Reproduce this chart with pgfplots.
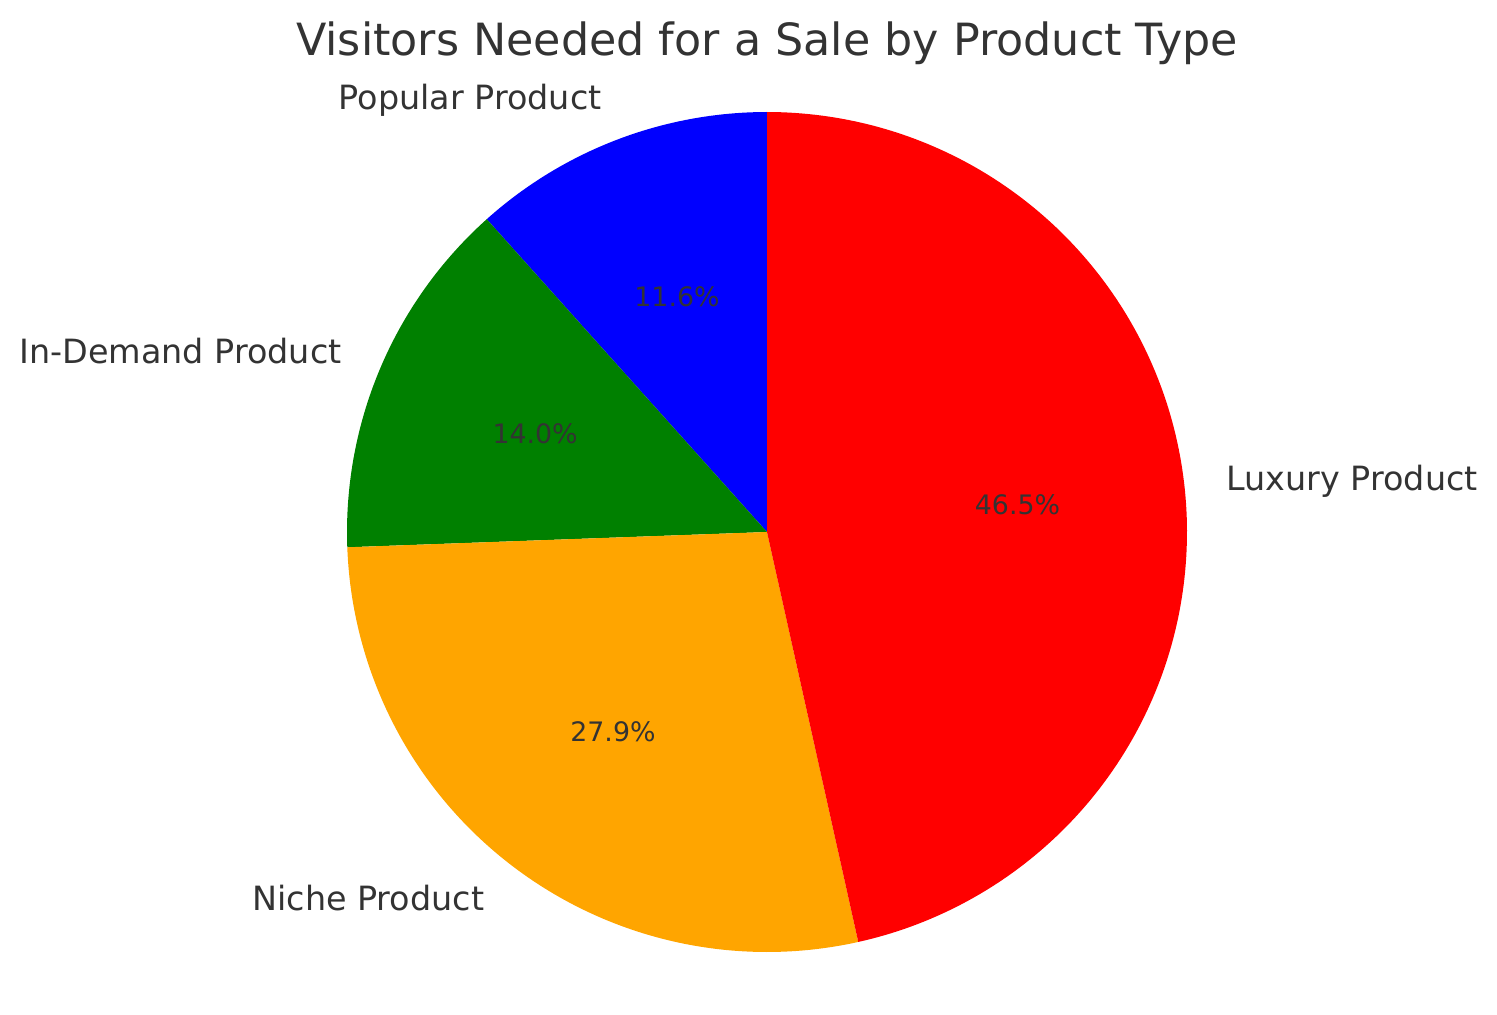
\documentclass[border=0pt]{standalone}
\usepackage{pgfplots}
\pgfplotsset{compat=1.18}
\usepackage{pgfplotstable}
\usepackage{fontspec}
\setmainfont{DejaVu Sans}
\definecolor{txt}{HTML}{333333}
\definecolor{pgreen}{RGB}{0,128,0}
\definecolor{porange}{RGB}{255,165,0}
\definecolor{pred}{RGB}{255,0,0}
\definecolor{pblue}{RGB}{0,0,255}

\pgfplotstableread{
name value
Popular 50
InDemand 60
Niche 120
Luxury 200
}\datatable

\pgfplotstablegetelem{0}{value}\of\datatable \let\va\pgfplotsretval
\pgfplotstablegetelem{1}{value}\of\datatable \let\vb\pgfplotsretval
\pgfplotstablegetelem{2}{value}\of\datatable \let\vc\pgfplotsretval
\pgfplotstablegetelem{3}{value}\of\datatable \let\vd\pgfplotsretval
\pgfmathsetmacro\total{\va+\vb+\vc+\vd}
\pgfmathsetmacro\fA{\va/\total}
\pgfmathsetmacro\fB{\vb/\total}
\pgfmathsetmacro\fC{\vc/\total}
\pgfmathsetmacro\fD{\vd/\total}
\pgfmathsetmacro\aA{90}
\pgfmathsetmacro\aB{\aA+360*\fA}
\pgfmathsetmacro\aC{\aB+360*\fB}
\pgfmathsetmacro\aD{\aC+360*\fC}
\pgfmathsetmacro\aE{\aD+360*\fD}
\pgfmathsetmacro\mA{(\aA+\aB)/2}
\pgfmathsetmacro\mB{(\aB+\aC)/2}
\pgfmathsetmacro\mC{(\aC+\aD)/2}
\pgfmathsetmacro\mD{(\aD+\aE)/2}
\pgfmathsetmacro\pA{100*\fA}
\pgfmathsetmacro\pB{100*\fB}
\pgfmathsetmacro\pC{100*\fC}
\pgfmathsetmacro\pD{100*\fD}

\newcommand\pct[1]{\pgfmathprintnumber[fixed,fixed zerofill,precision=1,assume math mode=true]{#1}\%}
\newcommand\lfont{\fontsize{16.7pt}{20pt}\selectfont}
\newcommand\pfont{\fontsize{13.4pt}{16pt}\selectfont}

\begin{document}
\begin{tikzpicture}
\useasboundingbox (0,0) rectangle (748.5pt,507pt);
\begin{axis}[
  x=210pt, y=210pt,
  anchor=origin, at={(383.5pt,241pt)},
  xmin=-1, xmax=1, ymin=-1, ymax=1,
  hide axis, clip=false,
]
\addplot[draw=none, fill=pblue, domain=\aA:\aB, samples=80, variable=\t] ({cos(\t)},{sin(\t)}) -- (axis cs:0,0) -- cycle;
\addplot[draw=none, fill=pgreen, domain=\aB:\aC, samples=80, variable=\t] ({cos(\t)},{sin(\t)}) -- (axis cs:0,0) -- cycle;
\addplot[draw=none, fill=porange, domain=\aC:\aD, samples=120, variable=\t] ({cos(\t)},{sin(\t)}) -- (axis cs:0,0) -- cycle;
\addplot[draw=none, fill=pred, domain=\aD:\aE, samples=180, variable=\t] ({cos(\t)},{sin(\t)}) -- (axis cs:0,0) -- cycle;

\node[anchor=east, text=txt, font=\lfont, inner sep=0pt] at (axis cs:{1.1*cos(\mA)},{1.1*sin(\mA)}) {Popular Product};
\node[anchor=east, text=txt, font=\lfont, inner sep=0pt] at (axis cs:{1.1*cos(\mB)},{1.1*sin(\mB)}) {In-Demand Product};
\node[anchor=east, text=txt, font=\lfont, inner sep=0pt] at (axis cs:{1.1*cos(\mC)},{1.1*sin(\mC)}) {Niche Product};
\node[anchor=west, text=txt, font=\lfont, inner sep=0pt] at (axis cs:{1.1*cos(\mD)},{1.1*sin(\mD)}) {Luxury Product};

\node[text=txt, font=\pfont, inner sep=0pt] at (axis cs:{0.6*cos(\mA)},{0.6*sin(\mA)}) {\pct{\pA}};
\node[text=txt, font=\pfont, inner sep=0pt] at (axis cs:{0.6*cos(\mB)},{0.6*sin(\mB)}) {\pct{\pB}};
\node[text=txt, font=\pfont, inner sep=0pt] at (axis cs:{0.6*cos(\mC)},{0.6*sin(\mC)}) {\pct{\pC}};
\node[text=txt, font=\pfont, inner sep=0pt] at (axis cs:{0.6*cos(\mD)},{0.6*sin(\mD)}) {\pct{\pD}};

\node[anchor=base, text=txt, font=\fontsize{22.2pt}{27pt}\selectfont, inner sep=0pt] at (axis cs:0,1.1357) {Visitors Needed for a Sale by Product Type};
\end{axis}
\end{tikzpicture}
\end{document}
